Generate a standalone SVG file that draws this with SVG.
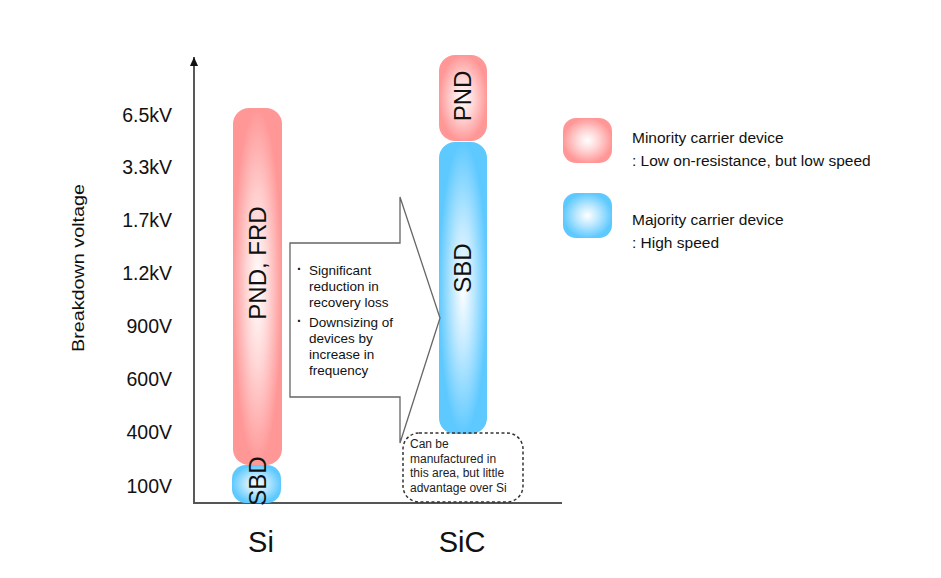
<svg xmlns="http://www.w3.org/2000/svg" width="941" height="578" viewBox="0 0 941 578">
<defs>
<radialGradient id="gPink" cx="50%" cy="50%" r="50%">
<stop offset="0" stop-color="#ffffff"/>
<stop offset="0.45" stop-color="#ffd6d6"/>
<stop offset="1" stop-color="#ff9797"/>
</radialGradient>
<radialGradient id="gBlue" cx="50%" cy="50%" r="50%">
<stop offset="0" stop-color="#ffffff"/>
<stop offset="0.45" stop-color="#bde8ff"/>
<stop offset="1" stop-color="#5ec9ff"/>
</radialGradient>
<marker id="axArrow" markerWidth="10" markerHeight="8" refX="9" refY="4" orient="auto" markerUnits="userSpaceOnUse">
<path d="M0,0 L9,4 L0,8 Z" fill="#111"/>
</marker>
<style>
.t{font-family:"Liberation Sans",Arial,sans-serif;fill:#111}
.ax{font-size:19.5px;text-anchor:end}
.bar{font-size:24px;text-anchor:middle}
.ar{font-size:13.5px}
.bul{font-size:14px;font-weight:bold}
.co{font-size:12px;fill:#222}
.lg{font-size:15.5px}
.cat{font-size:29px;text-anchor:middle}
.pink{fill:url(#gPink)}
.blue{fill:url(#gBlue)}
</style>
</defs>

<g id="axes">
<line x1="194" y1="503" x2="194" y2="57" stroke="#222" stroke-width="1.5" marker-end="url(#axArrow)"/>
<line x1="193" y1="503" x2="562" y2="503" stroke="#555" stroke-width="2"/>
<text class="t" font-size="16.5" transform="translate(84,268) rotate(-90)" text-anchor="middle" textLength="168" lengthAdjust="spacingAndGlyphs">Breakdown voltage</text>
<text class="t ax" x="172" y="122">6.5kV</text>
<text class="t ax" x="172" y="174">3.3kV</text>
<text class="t ax" x="172" y="227">1.7kV</text>
<text class="t ax" x="172" y="280">1.2kV</text>
<text class="t ax" x="172" y="333">900V</text>
<text class="t ax" x="172" y="386">600V</text>
<text class="t ax" x="172" y="439">400V</text>
<text class="t ax" x="172" y="493">100V</text>
</g>

<g id="si-sbd">
<rect class="blue" x="232" y="465" width="49" height="38" rx="14"/>
</g>
<g id="si-pnd">
<rect class="pink" x="233" y="108" width="49" height="357" rx="16"/>
<text class="t bar" transform="translate(266,263) rotate(-90)">PND, FRD</text>
</g>
<g id="si-sbd-label">
<text class="t bar" transform="translate(266,481) rotate(-90)">SBD</text>
</g>

<g id="sic-pnd">
<rect class="pink" x="439" y="55" width="48" height="86" rx="16"/>
<text class="t bar" transform="translate(471,96) rotate(-90)">PND</text>
</g>
<g id="sic-sbd">
<rect class="blue" x="439" y="142" width="48" height="292" rx="16"/>
<text class="t bar" transform="translate(471,268) rotate(-90)">SBD</text>
</g>

<g id="arrow">
<polygon points="290,243 400,243 400,197 440,318 400,443 400,397 290,397" fill="#fff" stroke="#666" stroke-width="1.3"/>
<text class="t bul" x="297" y="274">·</text>
<text class="t ar" x="309" y="275">Significant</text>
<text class="t ar" x="309" y="291">reduction in</text>
<text class="t ar" x="309" y="307">recovery loss</text>
<text class="t bul" x="297" y="326">·</text>
<text class="t ar" x="309" y="327">Downsizing of</text>
<text class="t ar" x="309" y="343">devices by</text>
<text class="t ar" x="309" y="359">increase in</text>
<text class="t ar" x="309" y="375">frequency</text>
</g>

<g id="callout">
<rect x="403" y="433" width="120" height="69" rx="16" fill="none" stroke="#333" stroke-width="1.5" stroke-dasharray="3,2.5"/>
<text class="t co" x="410" y="448">Can be</text>
<text class="t co" x="410" y="463">manufactured in</text>
<text class="t co" x="410" y="477">this area, but little</text>
<text class="t co" x="410" y="492">advantage over Si</text>
</g>

<g id="legend-minority">
<rect class="pink" x="563" y="118" width="49" height="45" rx="13"/>
<text class="t lg" x="632" y="143">Minority carrier device</text>
<text class="t lg" x="632" y="166">: Low on-resistance, but low speed</text>
</g>
<g id="legend-majority">
<rect class="blue" x="563" y="193" width="49" height="45" rx="13"/>
<text class="t lg" x="632" y="225">Majority carrier device</text>
<text class="t lg" x="632" y="248">: High speed</text>
</g>

<g id="categories">
<text class="t cat" x="261" y="552">Si</text>
<text class="t cat" x="462" y="552">SiC</text>
</g>
</svg>
